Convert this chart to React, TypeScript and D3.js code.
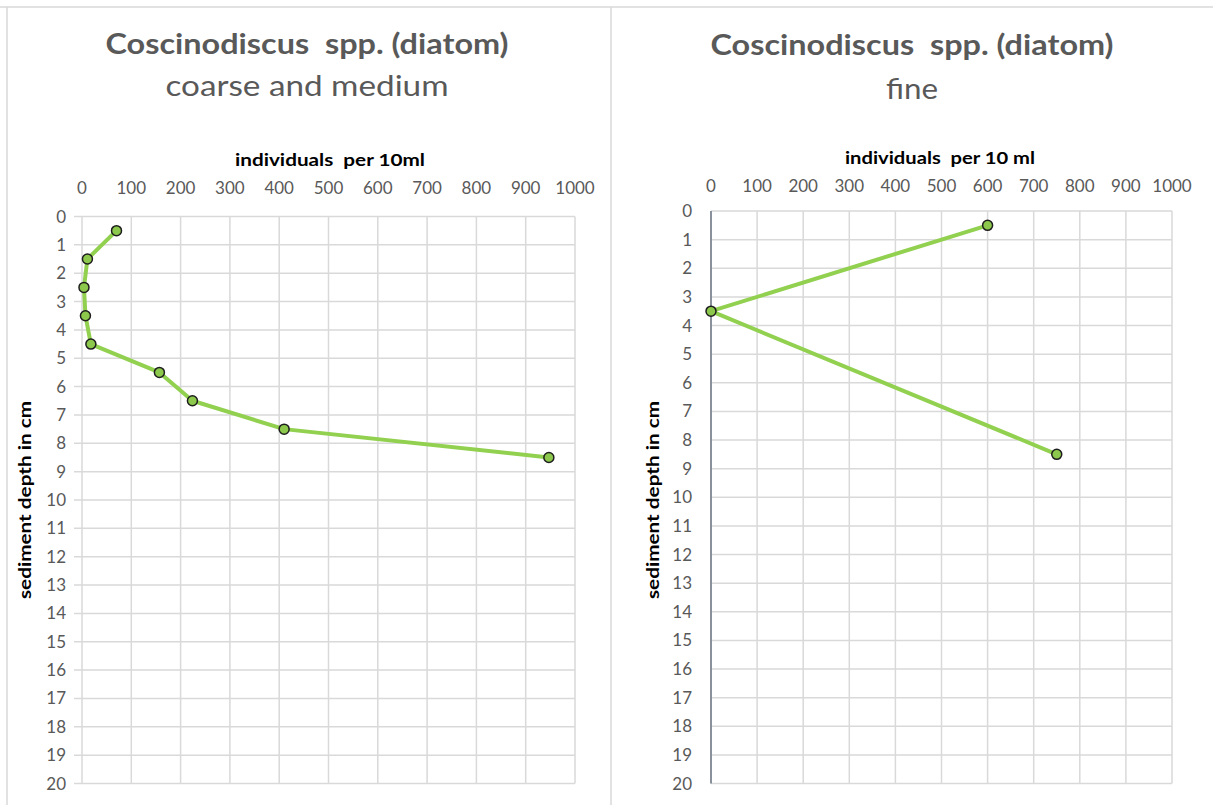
import React from "react";
import * as d3 from "d3";

const depthsLeft = [0.5, 1.5, 2.5, 3.5, 4.5, 5.5, 6.5, 7.5, 8.5];
const valuesLeft = [70, 11, 4, 7, 18, 157, 224, 410, 947];
const depthsRight = [0.5, 3.5, 8.5];
const valuesRight = [600, 0, 750];
const xTicks = [0, 100, 200, 300, 400, 500, 600, 700, 800, 900, 1000];
const yTicks = d3.range(0, 21);

const FONT = "Lato, 'Open Sans', sans-serif";

type PanelProps = {
  title: string;
  subtitle: string;
  subLen: number;
  xTitle: string;
  depths: number[];
  values: number[];
  x0: number;
  x1: number;
  y0: number;
  y1: number;
  titleX: number;
  titleY: number;
  subY: number;
  xTitleX: number;
  xTitleY: number;
  tickY: number;
  yLabelX: number;
  yTitleX: number;
  yTitleY: number;
  tickLen: number;
  darkAxis: boolean;
};

function Panel(p: PanelProps) {
  const x = d3.scaleLinear().domain([0, 1000]).range([p.x0, p.x1]);
  const y = d3.scaleLinear().domain([0, 20]).range([p.y0, p.y1]);
  const pts = p.depths.map((d, i) => [p.values[i], d] as [number, number]);
  const line = d3
    .line<[number, number]>()
    .x((d) => x(d[0]))
    .y((d) => y(d[1]));
  return (
    <g>
      <text
        x={p.titleX}
        y={p.titleY}
        textAnchor="middle"
        fontFamily={FONT}
        fontWeight="bold"
        fontSize={29}
        fill="#595959"
        textLength={403}
        lengthAdjust="spacingAndGlyphs"
        style={{ whiteSpace: "pre" }}
      >
        {p.title}
      </text>
      <text
        x={p.titleX}
        y={p.subY}
        textAnchor="middle"
        fontFamily={FONT}
        fontSize={29}
        fill="#595959"
        textLength={p.subLen}
        lengthAdjust="spacingAndGlyphs"
      >
        {p.subtitle}
      </text>
      <text
        x={p.xTitleX}
        y={p.xTitleY}
        textAnchor="middle"
        fontFamily={FONT}
        fontWeight="bold"
        fontSize={17}
        fill="#000"
        textLength={190}
        lengthAdjust="spacingAndGlyphs"
        style={{ whiteSpace: "pre" }}
      >
        {p.xTitle}
      </text>
      {xTicks.map((t) => (
        <g key={"x" + t}>
          <line x1={x(t)} x2={x(t)} y1={p.y0} y2={p.y1} stroke="#d9d9d9" strokeWidth={1.5} />
          <text x={x(t)} y={p.tickY} textAnchor="middle" fontFamily={FONT} fontSize={17} fill="#595959">
            {t}
          </text>
        </g>
      ))}
      {yTicks.map((t) => (
        <g key={"y" + t}>
          <line x1={p.x0 - p.tickLen} x2={p.x1} y1={y(t)} y2={y(t)} stroke="#d9d9d9" strokeWidth={1.5} />
          <text x={p.yLabelX} y={y(t) + 6} textAnchor="end" fontFamily={FONT} fontSize={17} fill="#595959">
            {t}
          </text>
        </g>
      ))}
      {p.darkAxis && (
        <line x1={p.x0} x2={p.x0} y1={p.y0} y2={p.y1} stroke="#6b7785" strokeWidth={1.5} />
      )}
      <text
        transform={`translate(${p.yTitleX},${p.yTitleY}) rotate(-90)`}
        textAnchor="middle"
        fontFamily={FONT}
        fontWeight="bold"
        fontSize={17}
        fill="#000"
        textLength={198}
        lengthAdjust="spacingAndGlyphs"
      >
        sediment depth in cm
      </text>
      <path d={line(pts) || ""} fill="none" stroke="#92d050" strokeWidth={4} strokeLinejoin="round" />
      {pts.map((d, i) => (
        <circle key={i} cx={x(d[0])} cy={y(d[1])} r={5} fill="#8cc84b" stroke="#1e1e1e" strokeWidth={1.5} />
      ))}
    </g>
  );
}

export default function App() {
  return (
    <svg width={1213} height={805} style={{ position: "absolute", left: 0, top: 0, background: "#fff" }}>
      <rect x={0} y={0} width={1213} height={805} fill="#fff" />
      <line x1={0} x2={1213} y1={7} y2={7} stroke="#d9d9d9" strokeWidth={1.5} />
      <line x1={7} x2={7} y1={7} y2={805} stroke="#d9d9d9" strokeWidth={1.5} />
      <line x1={611} x2={611} y1={7} y2={805} stroke="#d9d9d9" strokeWidth={1.5} />
      <Panel
        title="Coscinodiscus  spp. (diatom)"
        subtitle="coarse and medium"
        subLen={283}
        xTitle="individuals  per 10ml"
        depths={depthsLeft}
        values={valuesLeft}
        x0={82}
        x1={575}
        y0={216.5}
        y1={783.5}
        titleX={307}
        titleY={54}
        subY={96}
        xTitleX={330}
        xTitleY={166}
        tickY={194}
        yLabelX={66}
        yTitleX={31}
        yTitleY={500}
        tickLen={8}
        darkAxis={false}
      />
      <Panel
        title="Coscinodiscus  spp. (diatom)"
        subtitle="fine"
        subLen={52}
        xTitle="individuals  per 10 ml"
        depths={depthsRight}
        values={valuesRight}
        x0={711}
        x1={1172}
        y0={211}
        y1={783.5}
        titleX={912}
        titleY={55}
        subY={99}
        xTitleX={940}
        xTitleY={164}
        tickY={192}
        yLabelX={692}
        yTitleX={659}
        yTitleY={500}
        tickLen={0}
        darkAxis={true}
      />
    </svg>
  );
}
